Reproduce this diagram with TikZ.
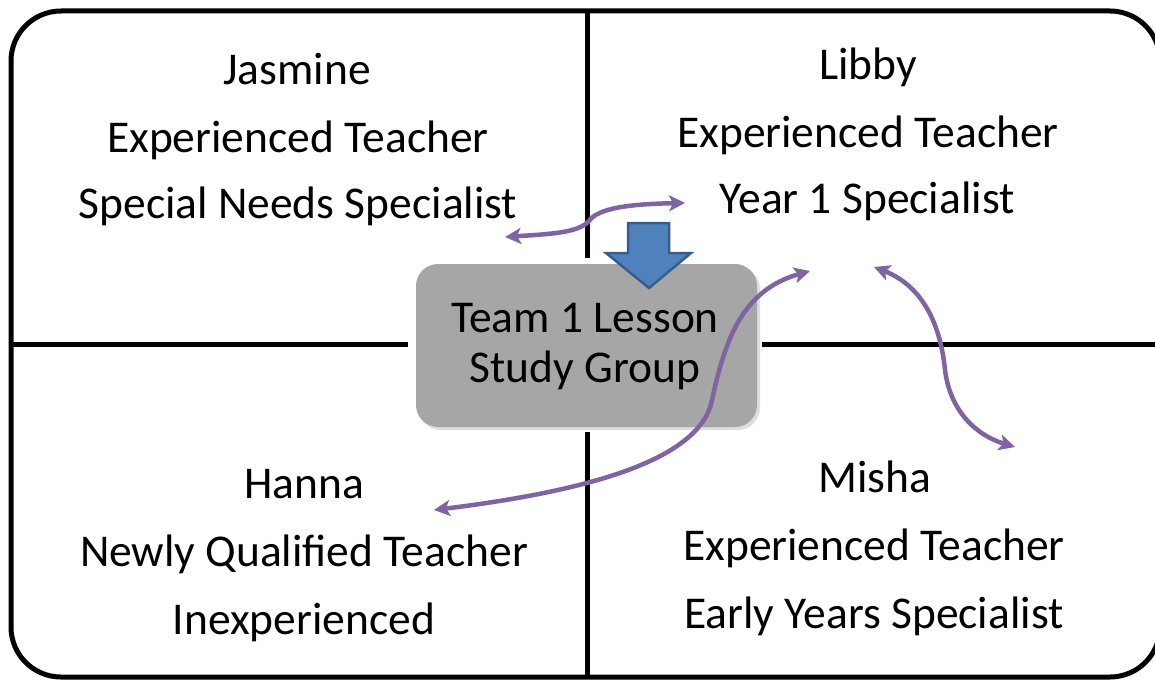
\documentclass[tikz,border=0pt]{standalone}
\usepackage{fontspec}
\setmainfont{Carlito}
\usetikzlibrary{arrows.meta}
\definecolor{purp}{RGB}{128,100,162}
\definecolor{boxgray}{RGB}{166,166,166}
\definecolor{blockfill}{RGB}{79,129,189}
\definecolor{blockdraw}{RGB}{56,93,138}
\tikzset{
  lbl/.style={anchor=base, inner sep=0pt, font=\fontsize{45.5}{50}\selectfont},
  divider/.style={line width=5pt, black},
  link/.style={purp, line width=4.5pt, {Stealth[length=16pt,width=16pt,inset=4pt]}-{Stealth[length=16pt,width=16pt,inset=4pt]}},
}
\begin{document}
\begin{tikzpicture}[x=1pt,y=-1pt]
\useasboundingbox (0,0) rectangle (1155,682);
\fill[white] (0,0) rectangle (1155,682);
% frame
\draw[line width=5pt, rounded corners=50pt] (11,11) rectangle (1160,677);
% dividers
\draw[divider] (587,11) -- (587,258);
\draw[divider] (587,432) -- (587,677);
\draw[divider] (11,344) -- (408,344);
\draw[divider] (762,344) -- (1160,344);
% central box
\fill[black!25, opacity=0.5, rounded corners=22pt] (419,267) rectangle (760,430);
\node[draw=none, fill=boxgray, rounded corners=22pt, minimum width=341pt, minimum height=163pt, inner sep=0pt] (team) at (586.5,345.5) {};
\node[lbl] (t1) at (585,332) {Team 1 Lesson};
\node[lbl] (t2) at (585,382) {Study Group};
% block arrow
\filldraw[fill=blockfill, draw=blockdraw, line width=2.5pt, line join=miter]
  (628,223) -- (669,223) -- (669,253) -- (691,253) -- (649,288) -- (606,253) -- (628,253) -- cycle;
% Jasmine
\node[lbl] (j1) at (297,85) {Jasmine};
\node[lbl] (j2) at (298,152) {Experienced Teacher};
\node[lbl] (j3) at (298,218) {Special Needs Specialist};
% Libby
\node[lbl] (l1) at (868,80) {Libby};
\node[lbl] (l2) at (868,147) {Experienced Teacher};
\node[lbl] (l3) at (867,213) {Year 1 Specialist};
% Hanna
\node[lbl] (h1) at (304,498) {Hanna};
\node[lbl] (h2) at (304,566) {Newly Qualified Teacher};
\node[lbl] (h3) at (304,634) {Inexperienced};
% Misha
\node[lbl] (m1) at (875,492) {Misha};
\node[lbl] (m2) at (874,560) {Experienced Teacher};
\node[lbl] (m3) at (874,628) {Early Years Specialist};
% arrow end points
\coordinate (aJ) at (505,237);
\coordinate (aL) at (685,203);
\coordinate (aH) at (434,510);
\coordinate (aC1) at (810,271);
\coordinate (aC2) at (874,267);
\coordinate (aM) at (1015,447);
% links
\draw[link] (aJ) .. controls (550,234) and (578,233) .. (589,221) .. controls (598,208) and (630,204) .. (aL);
\draw[link] (aH) .. controls (580,492) and (700,462) .. (712,400) .. controls (725,340) and (742,290) .. (aC1);
\draw[link] (aC2) .. controls (920,285) and (940,320) .. (945,370) .. controls (950,410) and (975,435) .. (aM);
\end{tikzpicture}
\end{document}
